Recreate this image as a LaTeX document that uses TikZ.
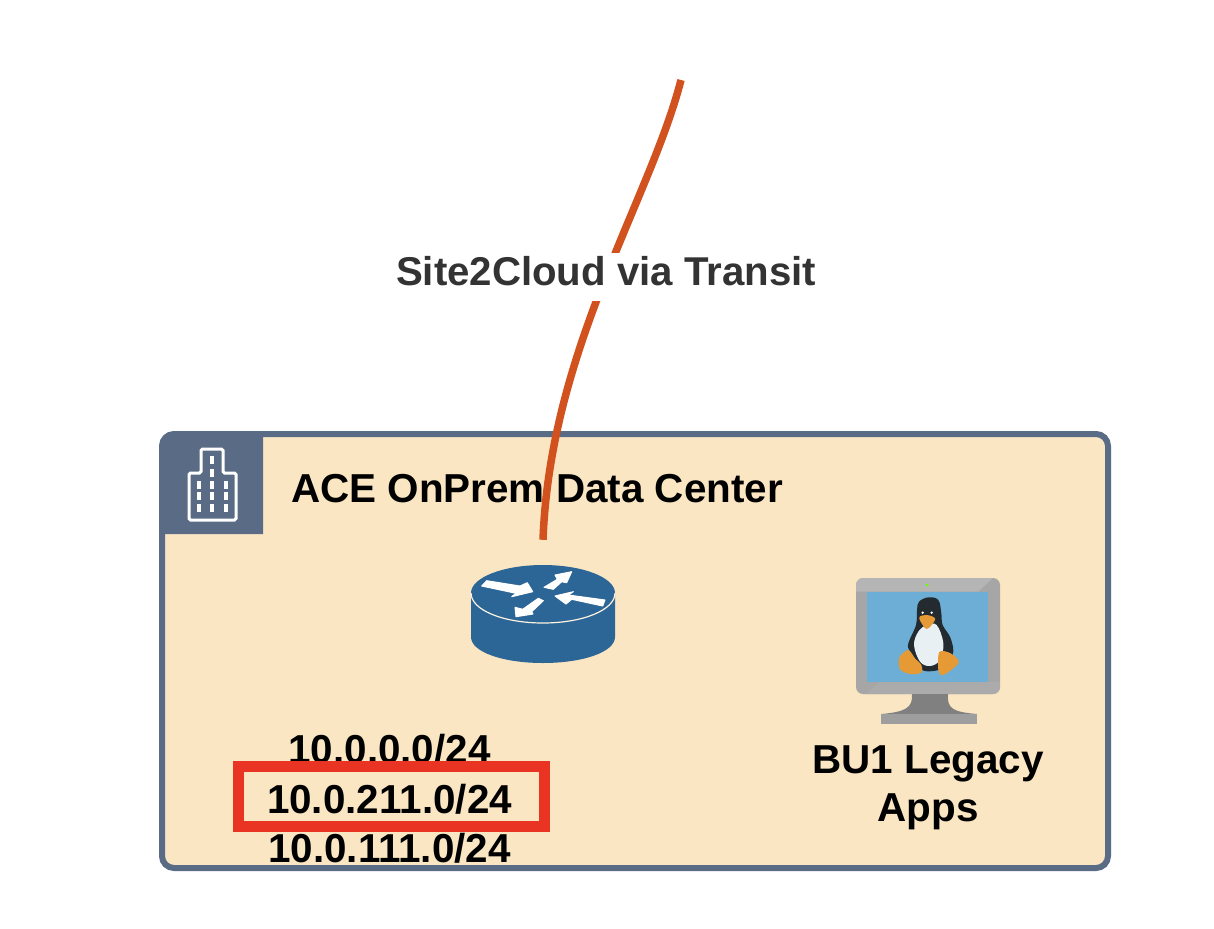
\documentclass[tikz,border=0pt]{standalone}
\usepackage{fontspec}
\setmainfont{Liberation Sans}
\definecolor{frameblue}{HTML}{5A6B86}
\definecolor{panelfill}{HTML}{FBE6C3}
\definecolor{linkred}{HTML}{D2521F}
\definecolor{routerblue}{HTML}{2C6696}
\definecolor{boxred}{HTML}{E93323}
\definecolor{screenblue}{HTML}{6CAED6}
\definecolor{tuxorange}{HTML}{E59A35}
\definecolor{tuxblack}{HTML}{232B30}
\definecolor{tuxbelly}{HTML}{E8F0F3}
\tikzset{
  lbl/.style={font=\fontsize{40.4}{46}\selectfont\bfseries,text=black,inner sep=0pt,anchor=base},
  win/.style={fill=white,draw=none},
  arrowshape/.style={fill=white,draw=white,line width=1pt,line join=round},
}
\begin{document}
\begin{tikzpicture}[x=1pt,y=-1pt]
\useasboundingbox (0,0) rectangle (1214,928);
\fill[white] (0,0) rectangle (1214,928);
% container
\node[draw=frameblue,line width=6pt,fill=panelfill,rounded corners=12pt,minimum width=946pt,minimum height=434pt,inner sep=0pt] (dc) at (635,651) {};
% tab
\fill[frameblue] (162,534) [rounded corners=9pt] -- (162,434) [sharp corners] -- (263,434) -- (263,534) -- cycle;
\draw[white,line width=3pt,rounded corners=1.5pt] (189,473) -- (201,473) -- (201,449) -- (223,449) -- (223,473) -- (236,473) -- (236,520) -- (189,520) -- cycle;
\foreach \x/\y in {199/485,212/485,226/485,199/496,212/496,226/496,199/508,212/508,226/508,212/460,212/473}
  \fill[win] (\x-1.8,\y-3.8) rectangle (\x+1.8,\y+3.8);
\node[lbl,anchor=base west] (title) at (291,502.5) {ACE OnPrem Data Center};
% router
\node[minimum width=144pt,minimum height=98pt,inner sep=0pt] (router) at (543,615) {};
\fill[routerblue] (471,593) -- (471,637) .. controls (471,652) and (503,663) .. (543,663) .. controls (583,663) and (615,652) .. (615,637) -- (615,593) -- cycle;
\fill[routerblue] (543,593) ellipse[x radius=72,y radius=28];
\draw[panelfill!50!white,line width=1.2pt] (471,593) .. controls (471,610) and (503,623) .. (543,623) .. controls (583,623) and (615,610) .. (615,593);
\path[arrowshape] (481.7,586) -- (486.7,580.7) -- (520,586) -- (527.3,582.7) -- (532.7,591.7) -- (511.7,596.7) -- (516,593.3) -- cycle;
\path[arrowshape] (544,587.3) -- (553.3,589.3) -- (561.7,581.7) -- (566.7,582.7) -- (571.7,571.7) -- (555,575) -- (557.3,579.3) -- cycle;
\path[arrowshape] (605,600) -- (602.7,606) -- (571.7,599.3) -- (566,604) -- (555,596) -- (573.3,591.7) -- (568.3,595) -- cycle;
\path[arrowshape] (538.3,598.3) -- (543.3,600.7) -- (531.7,611.7) -- (533,614) -- (516,616.7) -- (515,607.3) -- (522.7,609.3) -- cycle;
% connector
\coordinate (cloudend) at (681,80);
\draw[linkred,line width=7.5pt] (cloudend) .. controls (650,200) and (550,350) .. ([yshift=26pt]router.north);
\node[fill=white,text=black!80,font=\fontsize{40.2}{46}\selectfont\bfseries,inner xsep=2pt,inner ysep=0pt,text height=32.3pt,text depth=15.7pt,anchor=base] (linklabel) at (606,285) {Site2Cloud via Transit};
% monitor
\node[minimum width=145pt,minimum height=146pt,inner sep=0pt] (vm) at (928,651) {};
\fill[black!35,rounded corners=7pt] (856,578) rectangle (1000,694);
\begin{scope}
\clip[rounded corners=7pt] (856,578) rectangle (1000,694);
\fill[black!29] (856,578) -- (993,578) -- (978,591.7) -- (856,591.7) -- cycle;
\fill[black!33] (880,682) -- (866,694) -- (1000,694) -- (1000,682) -- cycle;
\end{scope}
\fill[screenblue] (866.7,591.7) rectangle (988,682);
\fill[green!60!yellow] (927,585) circle[radius=1.5];
\fill[black!50] (912,694) .. controls (913,708) and (905,712) .. (881,714) -- (977,714) .. controls (952,712) and (947,708) .. (948,694) -- cycle;
\fill[black!38] (881,714) rectangle (977,724);
\begin{scope}[shift={(830,560)},x=1pt/3,y=-1pt/3]
\fill[tuxblack] plot[smooth cycle,tension=0.6] coordinates {(295,112) (325,120) (334,160) (338,195) (362,235) (368,285) (330,328) (270,328) (240,275) (235,250) (258,195) (261,150) (267,125)};
\fill[tuxbelly] plot[smooth cycle,tension=0.6] coordinates {(290,195) (320,195) (340,250) (330,300) (300,318) (270,305) (252,255) (265,215)};
\fill[tuxorange] plot[smooth cycle,tension=0.6] coordinates {(268,172) (290,165) (315,175) (305,195) (290,207) (278,195)};
\fill[white] (278,158) circle[radius=4];
\fill[white] (305,158) circle[radius=4];
\fill[tuxorange] plot[smooth cycle,tension=0.5] coordinates {(208,292) (235,270) (255,295) (274,315) (274,338) (240,342) (210,328)};
\fill[tuxorange] plot[smooth cycle,tension=0.5] coordinates {(328,276) (362,280) (386,308) (340,345) (325,330)};
\end{scope}
% labels
\node[lbl] (appsa) at (928,773) {BU1 Legacy};
\node[lbl] (appsb) at (928,821) {Apps};
\node[lbl] (neta) at (389.5,763) {10.0.0.0/24};
\node[lbl] (netb) at (389.5,813) {10.0.211.0/24};
\node[lbl] (netc) at (389.5,862.5) {10.0.111.0/24};
\node[draw=boxred,line width=11pt,minimum width=306pt,minimum height=59.7pt,inner sep=0pt] (hilite) at (391.5,796.4) {};
\end{tikzpicture}
\end{document}
